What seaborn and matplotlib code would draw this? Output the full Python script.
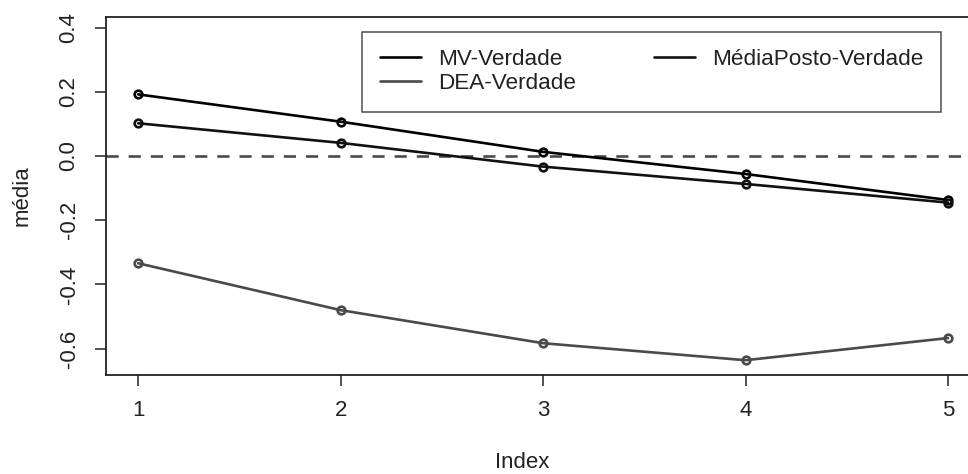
import numpy as np
import pandas as pd
import matplotlib
matplotlib.use("Agg")
import matplotlib.pyplot as plt
from matplotlib.lines import Line2D
import seaborn as sns

indice = [1, 2, 3, 4, 5]
mv_verdade = [0.192, 0.107, 0.013, -0.056, -0.137]
dea_verdade = [-0.334, -0.480, -0.583, -0.636, -0.567]
mediaposto_verdade = [0.102, 0.041, -0.033, -0.087, -0.145]
nomes = ["MV-Verdade", "DEA-Verdade", "MédiaPosto-Verdade"]
cores = ["#000000", "#4a4a4a", "#111111"]

sns.set_theme(style="white")
plt.rcParams["font.family"] = ["Liberation Sans", "DejaVu Sans"]
plt.rcParams["font.size"] = 16

df = pd.DataFrame({
    "Index": indice * 3,
    "media": mv_verdade + dea_verdade + mediaposto_verdade,
    "serie": [n for n in nomes for _ in indice],
})

fig = plt.figure(figsize=(9.68, 4.74), dpi=100)
ax = fig.add_axes([0.1092, 0.2089, 1.0128 - 0.1092, 0.9648 - 0.2089])

ax.axhline(0, color="#4a4a4a", lw=1.9, ls=(0, (4.6, 3.8)), zorder=1)

for nome, cor in zip(nomes, cores):
    sub = df[df["serie"] == nome]
    sns.lineplot(data=sub, x="Index", y="media", color=cor, lw=1.9,
                 marker="o", markersize=5.5, markerfacecolor="none",
                 markeredgecolor=cor, markeredgewidth=1.9, ax=ax, zorder=3)

ax.set_xlim(0.84, 5.16)
ax.set_ylim(-0.682, 0.434)
ax.set_xticks(indice)
ax.set_yticks([-0.6, -0.4, -0.2, 0.0, 0.2, 0.4])
ax.set_yticklabels(["-0.6", "-0.4", "-0.2", "0.0", "0.2", "0.4"])

for s in ["left", "bottom", "top", "right"]:
    ax.spines[s].set_color("#222222")
    ax.spines[s].set_linewidth(1.3)

ax.tick_params(axis="both", direction="out", length=7.8, width=1.1, color="#222222",
               labelsize=16, labelcolor="#222222", left=True, bottom=True)
ax.tick_params(axis="x", pad=10)
ax.tick_params(axis="y", pad=11)
for lab in ax.get_yticklabels():
    lab.set_rotation(90)
    lab.set_va("center")

ax.set_xlabel("Index", fontsize=16, color="#222222")
ax.set_ylabel("média", fontsize=16, color="#222222")
ax.xaxis.set_label_coords(0.4758, -0.2456)
ax.xaxis.label.set_va("center")
ax.yaxis.set_label_coords(-0.0957, 0.5)
ax.yaxis.label.set_va("center")

handles = [Line2D([0], [0], color=c, lw=1.9) for c in cores]
leg = ax.legend(handles, nomes, ncol=2, loc="upper left",
                bbox_to_anchor=(362 / 968, 1 - 31.7 / 474), bbox_transform=fig.transFigure,
                frameon=True, fancybox=False, borderaxespad=0, borderpad=0.78,
                handlelength=1.85, handletextpad=0.75, columnspacing=3.45,
                labelspacing=0.12, fontsize=16.2)
leg.get_frame().set_edgecolor("#222222")
leg.get_frame().set_linewidth(1.1)
for t in leg.get_texts():
    t.set_color("#222222")

fig.savefig("out.png", dpi=100)
